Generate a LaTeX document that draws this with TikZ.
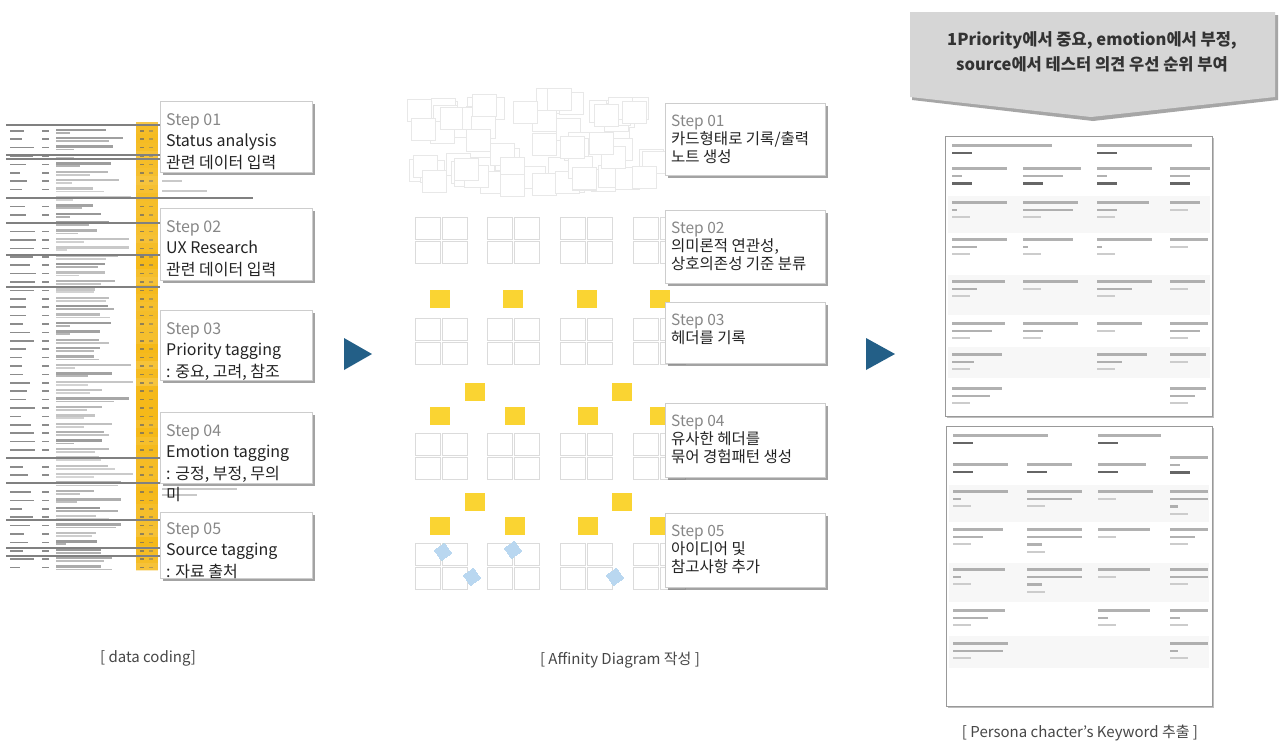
\documentclass[tikz,border=0pt]{standalone}
\usepackage{fontspec}
\setmainfont{Noto Sans CJK KR}
\usetikzlibrary{shadows}
\definecolor{stepgrey}{RGB}{135,135,135}
\definecolor{txt}{RGB}{35,35,35}
\definecolor{boxborder}{RGB}{205,205,205}
\definecolor{sticky}{RGB}{250,212,50}
\definecolor{idea}{RGB}{185,215,240}
\definecolor{arrowblue}{RGB}{35,95,135}
\definecolor{calloutgrey}{RGB}{214,214,214}
\definecolor{sheetyellow}{RGB}{245,185,25}
\tikzset{
  stepbox/.style={draw=boxborder, fill=white, line width=0.8pt, anchor=north west, inner sep=0pt,
    drop shadow={shadow xshift=2.5pt, shadow yshift=-2.5pt, fill=black!60, opacity=0.6}},
  steptext/.style={anchor=north west, align=left, inner sep=0pt, text=txt},
  leftfont/.style={font=\fontsize{16}{21.5}\selectfont},
  midfont/.style={font=\fontsize{15.5}{18}\selectfont},
  card/.style={draw=black!40, line width=1.4pt, fill=white,
    drop shadow={shadow xshift=1.5pt, shadow yshift=-1.5pt, fill=black!50, opacity=0.5}},
  note/.style={draw=black!14, fill=white, line width=0.6pt},
  cloudnote/.style={draw=black!9, fill=white, line width=0.6pt},
  header/.style={fill=sticky},
  ideanote/.style={fill=idea},
  caption/.style={font=\fontsize{15}{18}\selectfont, text=black!72, inner sep=0pt},
  celltxt/.style={fill=black!38, opacity=0.8},
  cellpct/.style={fill=black!20},
  cellbold/.style={fill=black!60},
  sheetrule/.style={draw=black!50, line width=1.1pt}
}
% card cell: x y l1 l2 l3
\newcommand\kc[5]{%
  \fill[celltxt] (#1,#2) rectangle ++(#3,2.6);
  \ifnum#4>0
    \fill[celltxt] (#1,#2+7.5) rectangle ++(#4,2.6);
    \ifnum#5>0
      \fill[celltxt] (#1,#2+15) rectangle ++(#5,2.6);
      \fill[cellpct] (#1,#2+22.5) rectangle ++(18,2.4);
    \else
      \fill[cellpct] (#1,#2+15) rectangle ++(18,2.4);
    \fi
  \else
    \fill[cellpct] (#1,#2+7.5) rectangle ++(18,2.4);
  \fi}
% header cell: x y l1 l2
\newcommand\kh[4]{%
  \fill[celltxt] (#1,#2) rectangle ++(#3,2.6);
  \ifnum#4>0
    \fill[celltxt] (#1,#2+7.5) rectangle ++(#4,2.6);
    \fill[cellbold] (#1,#2+15) rectangle ++(20,2.8);
  \else
    \fill[cellbold] (#1,#2+7.5) rectangle ++(20,2.8);
  \fi}
\newcommand\grp[2]{%
  \draw[note] (#1,#2) rectangle ++(25,22);
  \draw[note] (#1+27,#2) rectangle ++(25,22);
  \draw[note] (#1,#2+24) rectangle ++(25,22);
  \draw[note] (#1+27,#2+24) rectangle ++(25,22);}
\newcommand\hdr[2]{\fill[header] (#1,#2) rectangle ++(20,18);}
\begin{document}
\begin{tikzpicture}[x=1pt,y=-1pt]
\useasboundingbox (0,0) rectangle (1281,745);
\fill[white] (0,0) rectangle (1281,745);

% ---------------- spreadsheet (data coding) ----------------
\fill[sheetyellow!80] (136,122) rectangle (158,570);
\pgfmathsetseed{42}
\foreach \i in {0,...,52} {
  \pgfmathsetmacro\yy{130+\i*8.4}
  \pgfmathsetmacro\la{10+rnd*16}
  \pgfmathsetmacro\lc{35+rnd*45}
  \pgfmathsetmacro\ld{10+rnd*55}
  \pgfmathsetmacro\op{0.45+rnd*0.45}
  \pgfmathsetmacro\oy{0.2+rnd*0.8}
  \fill[sheetyellow, opacity=\oy] (136,\yy-4.2) rectangle (158,\yy+4.2);
  \fill[black!45] (10,\yy) rectangle ++(\la,1.5);
  \fill[black!45] (42,\yy) rectangle ++(7,1.5);
  \fill[black!45, opacity=\op] (56,\yy-1.5) rectangle ++(\lc,2.4);
  \fill[black!35, opacity=\op] (56,\yy+1.8) rectangle ++(\ld,1.8);
  \fill[black!60, opacity=0.7] (140,\yy) rectangle ++(4,1.5);
  \fill[black!55, opacity=0.5] (149,\yy) rectangle ++(4,1.5);
}
\foreach \yy in {125,155,159,223,255,287,458,483,520,548,556}
  \draw[sheetrule] (6,\yy) -- (160,\yy);
\draw[sheetrule] (6,198) -- (253,198);
\foreach \yy/\ll in {180/20,190/45,262/30,350/60,362/40,488/75,494/35,540/25} {
  \fill[black!35, opacity=0.6] (162,\yy) rectangle ++(\ll,1.8);
}

% left step boxes
\node[stepbox, minimum width=152pt, minimum height=71pt] (lb1) at (160,101) {};
\node[stepbox, minimum width=152pt, minimum height=72pt] (lb2) at (160,208) {};
\node[stepbox, minimum width=152pt, minimum height=70pt] (lb3) at (160,310) {};
\node[stepbox, minimum width=152pt, minimum height=71pt] (lb4) at (160,412) {};
\node[stepbox, minimum width=152pt, minimum height=66pt] (lb5) at (160,512) {};
\node[steptext, leftfont] (lt1) at ([xshift=6pt,yshift=-12pt]lb1.north west)
  {\textcolor{stepgrey}{Step 01}\\Status analysis\\관련 데이터 입력};
\node[steptext, leftfont] (lt2) at ([xshift=6pt,yshift=-12pt]lb2.north west)
  {\textcolor{stepgrey}{Step 02}\\UX Research\\관련 데이터 입력};
\node[steptext, leftfont] (lt3) at ([xshift=6pt,yshift=-12pt]lb3.north west)
  {\textcolor{stepgrey}{Step 03}\\Priority tagging\\: 중요, 고려, 참조};
\node[steptext, leftfont] (lt4) at ([xshift=6pt,yshift=-12pt]lb4.north west)
  {\textcolor{stepgrey}{Step 04}\\Emotion tagging\\: 긍정, 부정, 무의\\미};
\node[steptext, leftfont] (lt5) at ([xshift=6pt,yshift=-10pt]lb5.north west)
  {\textcolor{stepgrey}{Step 05}\\Source tagging\\: 자료 출처};

% arrows
\fill[arrowblue] (344,338) -- (372,354) -- (344,370) -- cycle;
\fill[arrowblue] (866,338) -- (895,354) -- (866,370) -- cycle;

% ---------------- affinity diagram ----------------
\pgfmathsetseed{17}
\foreach \i in {1,...,70} {
  \pgfmathsetmacro\xx{405+rnd*240}
  \pgfmathsetmacro\sp{abs(\xx-525)/120}
  \pgfmathsetmacro\yy{84+14*\sp+rnd*(92-20*\sp)}
  \draw[cloudnote] (\xx,\yy) rectangle ++(24,22);
}
\foreach \gx in {415,487,560,633} {
  \grp{\gx}{217}
  \grp{\gx}{318}
  \grp{\gx}{433}
  \grp{\gx}{543}
}
\foreach \hx in {430,503,577,650} \hdr{\hx}{290}
\foreach \hx in {465,612} \hdr{\hx}{383}
\foreach \hx in {430,505,578,650} \hdr{\hx}{407}
\foreach \hx in {465,612} \hdr{\hx}{493}
\foreach \hx in {430,505,578,650} \hdr{\hx}{517}
\foreach \ix/\iy in {443/552,513/550,472/577,615/577}
  \fill[ideanote, rotate around={35:(\ix,\iy)}] (\ix-6,\iy-6) rectangle (\ix+6,\iy+6);

% middle step boxes
\node[stepbox, minimum width=160pt, minimum height=72pt] (mb1) at (665,103) {};
\node[stepbox, minimum width=160pt, minimum height=73pt] (mb2) at (665,210) {};
\node[stepbox, minimum width=160pt, minimum height=61pt] (mb3) at (665,302) {};
\node[stepbox, minimum width=160pt, minimum height=74pt] (mb4) at (665,403) {};
\node[stepbox, minimum width=160pt, minimum height=74pt] (mb5) at (665,513) {};
\node[steptext, midfont] (mt1) at ([xshift=6pt,yshift=-12pt]mb1.north west)
  {\textcolor{stepgrey}{Step 01}\\카드형태로 기록/출력\\노트 생성};
\node[steptext, midfont] (mt2) at ([xshift=6pt,yshift=-12pt]mb2.north west)
  {\textcolor{stepgrey}{Step 02}\\의미론적 연관성,\\상호의존성 기준 분류};
\node[steptext, midfont] (mt3) at ([xshift=6pt,yshift=-12pt]mb3.north west)
  {\textcolor{stepgrey}{Step 03}\\헤더를 기록};
\node[steptext, midfont] (mt4) at ([xshift=6pt,yshift=-12pt]mb4.north west)
  {\textcolor{stepgrey}{Step 04}\\유사한 헤더를\\묶어 경험패턴 생성};
\node[steptext, midfont] (mt5) at ([xshift=6pt,yshift=-12pt]mb5.north west)
  {\textcolor{stepgrey}{Step 05}\\아이디어 및\\참고사항 추가};

% ---------------- callout ----------------
\fill[black!35] (912,15) -- (1278,15) -- (1278,100) -- (1093,121) -- (912,100) -- cycle;
\fill[calloutgrey] (910,12) -- (1275,12) -- (1275,97) -- (1091,117) -- (910,97) -- cycle;
\node[font=\fontsize{16.5}{25}\selectfont\bfseries, text=black!80, align=center, inner sep=0pt] (callout) at (1092,52)
  {1Priority에서 중요, emotion에서 부정,\\source에서 테스터 의견 우선 순위 부여};

% ---------------- persona cards ----------------
\node[card, anchor=north west, minimum width=267pt, minimum height=280pt, inner sep=0pt] (card1) at (945,136) {};
\node[card, anchor=north west, minimum width=266pt, minimum height=280pt, inner sep=0pt] (card2) at (946,426) {};
% card 1 shading
\fill[black!3] (948,196) rectangle (1210,233);
\fill[black!3] (948,275) rectangle (1210,315);
\fill[black!3] (948,347) rectangle (1210,378);
% card 1 contents
\kh{952}{144}{100}{0}
\kh{1097}{144}{95}{0}
\kh{952}{167}{55}{10}
\kh{1023}{167}{58}{40}
\kh{1097}{167}{55}{10}
\kh{1170}{167}{40}{20}
\kc{952}{201}{55}{5}{0}
\kc{1023}{201}{55}{50}{0}
\kc{1097}{201}{52}{20}{0}
\kc{1170}{201}{30}{0}{0}
\kc{952}{238}{55}{25}{0}
\kc{1023}{238}{50}{5}{0}
\kc{1097}{238}{55}{5}{0}
\kc{1170}{238}{38}{0}{0}
\kc{952}{280}{53}{25}{0}
\kc{1023}{280}{55}{0}{0}
\kc{1097}{280}{55}{35}{0}
\kc{1170}{280}{35}{0}{0}
\kc{952}{322}{53}{40}{0}
\kc{1023}{322}{55}{20}{0}
\kc{1097}{322}{45}{0}{0}
\kc{1170}{322}{38}{30}{0}
\kc{952}{353}{50}{22}{0}
\kc{1097}{353}{50}{25}{0}
\kc{1170}{353}{36}{0}{0}
\kc{952}{387}{50}{38}{0}
\kc{1170}{387}{36}{25}{0}
% card 2 shading
\fill[black!3] (949,485) rectangle (1209,522);
\fill[black!3] (949,563) rectangle (1209,602);
\fill[black!3] (949,636) rectangle (1209,668);
% card 2 contents
\kh{953}{434}{95}{0}
\kh{1098}{434}{63}{0}
\kh{953}{463}{55}{0}
\kh{1027}{463}{45}{0}
\kh{1098}{463}{48}{0}
\kh{1170}{456}{38}{10}
\kc{953}{490}{55}{8}{0}
\kc{1027}{490}{55}{45}{0}
\kc{1098}{490}{55}{0}{0}
\kc{1170}{490}{38}{38}{8}
\kc{953}{528}{50}{30}{0}
\kc{1027}{528}{55}{55}{15}
\kc{1098}{528}{52}{0}{0}
\kc{1170}{528}{38}{25}{0}
\kc{953}{568}{52}{8}{0}
\kc{1027}{568}{55}{55}{15}
\kc{1098}{568}{52}{0}{0}
\kc{1170}{568}{38}{38}{0}
\kc{953}{609}{52}{35}{0}
\kc{1098}{609}{52}{10}{0}
\kc{1170}{609}{38}{10}{0}
\kc{953}{642}{55}{50}{0}
\kc{1170}{642}{38}{8}{0}

% ---------------- captions ----------------
\node[caption] (cap1) at (148,658) {[ data coding]};
\node[caption] (cap2) at (620,660) {[ Affinity Diagram 작성 ]};
\node[caption] (cap3) at (1080,733) {[ Persona chacter's Keyword 추출 ]};
\end{tikzpicture}
\end{document}
